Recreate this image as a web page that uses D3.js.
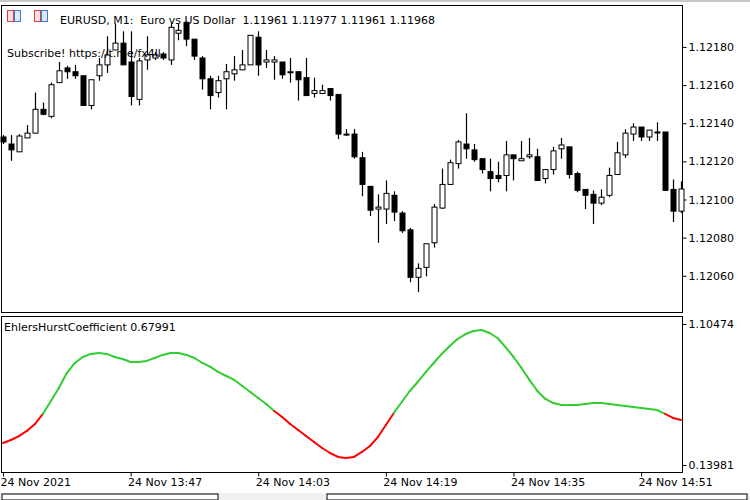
<!DOCTYPE html>
<html>
<head>
<meta charset="utf-8">
<script src="https://cdn.jsdelivr.net/npm/d3@7"></script>
<style>
body { margin: 0; background: #fff; }
svg text { font-family: "DejaVu Sans", sans-serif; font-size: 11px; fill: #000; }
</style>
</head>
<body>
<div id="chart"></div>
<script>
// prices in points above 1.12000 (1 point = 0.00001)
var opens  = [132.8,129.1,125.0,132.3,134.8,147.3,143.6,161.3,169.0,167.0,164.9,149.3,164.9,170.6,178.4,182.0,172.1,152.5,173.2,174.2,176.3,173.2,187.2,192.9,184.1,174.2,163.3,156.1,163.3,165.9,168.0,170.6,185.1,172.1,172.1,172.1,167.0,167.0,163.9,155.6,155.6,158.2,155.1,134.3,134.3,121.9,106.9,95.0,95.0,102.2,92.9,84.1,59.2,64.4,77.3,95.5,107.9,118.8,129.1,126.0,121.4,114.6,112.6,112.6,123.4,120.3,122.4,122.4,111.0,115.7,126.6,127.6,113.6,105.3,102.7,98.1,102.2,113.1,123.4,134.3,138.0,132.8,135.4,135.4,105.3,93.9];
var highs  = [133.8,133.8,134.3,139.0,156.1,150.9,161.3,172.1,170.1,170.6,164.9,162.8,174.2,185.6,192.3,188.2,188.2,174.2,185.6,177.3,177.3,192.3,192.3,193.4,184.1,175.2,164.9,164.9,171.1,175.2,178.4,186.1,188.2,178.4,175.2,172.1,174.2,167.0,174.2,163.9,160.2,158.2,155.1,136.9,136.9,125.0,106.9,102.7,110.0,104.3,93.9,85.1,66.5,76.8,97.6,116.2,120.9,131.2,145.2,129.1,121.4,121.4,119.8,130.7,123.4,130.7,132.3,126.6,115.7,127.6,132.3,127.6,114.6,105.3,104.8,105.3,116.7,130.2,136.9,140.0,138.0,136.4,140.5,135.4,110.5,109.5];
var lows   = [129.1,120.3,125.0,132.3,134.8,144.2,142.6,161.3,163.3,163.3,149.3,147.3,162.3,166.4,178.4,170.6,149.3,149.3,168.0,173.2,173.2,170.6,183.5,180.4,173.2,157.6,147.3,153.5,147.3,162.3,168.0,170.6,164.9,169.0,162.8,163.3,161.3,151.9,154.5,153.5,155.6,151.9,131.7,133.3,121.4,101.7,91.3,77.3,87.2,88.7,82.5,56.6,51.4,59.7,74.8,95.0,107.9,116.2,121.4,119.8,113.6,104.3,109.0,104.3,110.0,120.3,121.4,110.0,108.4,113.1,121.4,111.0,103.8,95.0,87.2,97.0,101.2,113.1,121.9,130.7,130.7,130.7,130.7,104.8,88.2,92.9];
var closes = [130.2,126.0,133.3,134.8,147.3,144.7,160.2,167.5,167.0,164.9,149.3,162.8,170.6,175.8,182.0,170.6,154.0,172.7,175.8,175.8,174.2,190.3,188.7,184.1,175.2,163.3,154.5,162.3,167.0,168.0,170.6,186.1,170.6,173.2,173.2,165.4,167.0,162.8,154.5,157.1,157.1,154.5,134.3,134.3,122.4,107.9,94.4,96.0,103.2,93.4,83.6,59.2,63.9,76.8,96.0,107.9,119.3,130.2,126.6,120.9,115.7,111.0,111.0,123.4,121.4,121.4,123.4,110.0,115.7,125.5,128.6,113.1,104.8,102.2,98.1,101.2,112.6,124.5,134.8,138.0,132.8,136.4,135.4,104.8,93.9,105.5];
var hurst  = [0.290,0.311,0.338,0.373,0.420,0.489,0.578,0.667,0.769,0.838,0.879,0.900,0.906,0.900,0.879,0.865,0.845,0.845,0.852,0.872,0.893,0.906,0.906,0.893,0.872,0.838,0.811,0.776,0.749,0.722,0.680,0.639,0.598,0.557,0.509,0.468,0.420,0.379,0.338,0.297,0.256,0.222,0.195,0.188,0.195,0.229,0.270,0.331,0.414,0.496,0.571,0.646,0.708,0.776,0.838,0.900,0.954,1.002,1.036,1.057,1.064,1.043,1.009,0.947,0.879,0.804,0.722,0.646,0.592,0.564,0.550,0.550,0.550,0.557,0.564,0.564,0.557,0.550,0.544,0.537,0.530,0.523,0.516,0.489,0.462,0.448];
var priceTicks = [1.12060,1.12080,1.12100,1.12120,1.12140,1.12160,1.12180];
var timeTickIdx = [0,16,32,48,64,80];
var timeLabels = ["24 Nov 2021","24 Nov 13:47","24 Nov 14:03","24 Nov 14:19","24 Nov 14:35","24 Nov 14:51"];
var hurstMin = 0.13981, hurstMax = 1.10474, hurstLevel = 0.5;

var W = 750, H = 500;
var svg = d3.select('#chart').append('svg').attr('width', W).attr('height', H);

var x = d3.scaleLinear().domain([0, 85]).range([3, 681]);
var y = d3.scaleLinear().domain([1.12041, 1.12202]).range([312, 5]);
var yi = d3.scaleLinear().domain([hurstMin, hurstMax]).range([465, 324]);
function px(p) { return 1.12 + p / 100000; }

// tab strips
svg.append('rect').attr('x', 0).attr('y', 0).attr('width', W).attr('height', 2).attr('fill', '#c8c8c8');
svg.append('rect').attr('x', 0).attr('y', 493).attr('width', W).attr('height', 7).attr('fill', '#f0f0f0');
svg.append('rect').attr('x', 2).attr('y', 494).attr('width', 216).attr('height', 6).attr('fill', '#fff').attr('stroke', '#000');
svg.append('rect').attr('x', 327).attr('y', 494).attr('width', 420).attr('height', 6).attr('fill', '#fff').attr('stroke', '#000');

// panels
svg.append('rect').attr('x', 1.5).attr('y', 5.5).attr('width', 681).attr('height', 307).attr('fill', 'none').attr('stroke', '#000');
svg.append('rect').attr('x', 1.5).attr('y', 316.5).attr('width', 681).attr('height', 156).attr('fill', 'none').attr('stroke', '#000');

// price axis
var pa = svg.append('g').attr('transform', 'translate(682.5,0)')
    .call(d3.axisRight(y).tickValues(priceTicks).tickSize(4).tickPadding(2).tickFormat(d3.format('.5f')));
pa.select('.domain').remove();
pa.selectAll('text').style('font-size', '11px');

var ia = svg.append('g').attr('transform', 'translate(682.5,0)')
    .call(d3.axisRight(yi).tickValues([hurstMin, hurstMax]).tickSize(4).tickPadding(2).tickFormat(d3.format('.5f')));
ia.select('.domain').remove();
ia.selectAll('text').style('font-size', '11px');

// time axis
var ta = svg.append('g').attr('transform', 'translate(0,472.5)')
    .call(d3.axisBottom(x).tickValues(timeTickIdx).tickSize(4).tickPadding(2)
        .tickFormat(function(d, i) { return timeLabels[i]; }));
ta.select('.domain').remove();
ta.selectAll('text').attr('text-anchor', 'start').attr('dx', -3).style('font-size', '11px');

// candles
var idx = d3.range(opens.length);
var g = svg.append('g');
g.selectAll('line.wick').data(idx).enter().append('line')
    .attr('x1', function(i) { return Math.round(x(i)) + 0.5; })
    .attr('x2', function(i) { return Math.round(x(i)) + 0.5; })
    .attr('y1', function(i) { return y(px(highs[i])); })
    .attr('y2', function(i) { return y(px(lows[i])); })
    .attr('stroke', '#000').attr('stroke-width', 1.2);
g.selectAll('rect.body').data(idx).enter().append('rect')
    .attr('x', function(i) { return Math.round(x(i)) - 2; })
    .attr('width', 5)
    .attr('y', function(i) { return y(px(Math.max(opens[i], closes[i]))); })
    .attr('height', function(i) { return Math.max(1, Math.abs(y(px(opens[i])) - y(px(closes[i])))); })
    .attr('fill', function(i) { return closes[i] < opens[i] ? '#000' : '#fff'; })
    .attr('stroke', '#000').attr('stroke-width', 1);

// indicator line, coloured by level
for (var i = 0; i < hurst.length - 1; i++) {
    var mid = (hurst[i] + hurst[i + 1]) / 2;
    svg.append('line')
        .attr('x1', x(i)).attr('y1', yi(hurst[i]))
        .attr('x2', x(i + 1)).attr('y2', yi(hurst[i + 1]))
        .attr('stroke', mid < hurstLevel ? '#ff0000' : '#32cd32')
        .attr('stroke-width', 2).attr('stroke-linecap', 'round');
}

// icons + texts
function icon(x0, c1, c2) {
    svg.append('rect').attr('x', x0 + 0.5).attr('y', 10.5).attr('width', 6).attr('height', 11).attr('fill', '#fde0e0').attr('stroke', c1);
    svg.append('rect').attr('x', x0 + 7.5).attr('y', 10.5).attr('width', 6).attr('height', 11).attr('fill', '#dbe9fb').attr('stroke', c2);
}
icon(7, '#e04040', '#3a7bd5');
icon(34, '#e04040', '#3a7bd5');
svg.append('text').attr('x', 60).attr('y', 24).text('EURUSD, M1:  Euro vs US Dollar  1.11961 1.11977 1.11961 1.11968').attr('xml:space', 'preserve');
svg.append('text').attr('x', 7).attr('y', 57).text('Subscribe! https://t.me/fx4ll');
svg.append('text').attr('x', 4).attr('y', 331).text('EhlersHurstCoefficient 0.67991');
</script>
</body>
</html>
